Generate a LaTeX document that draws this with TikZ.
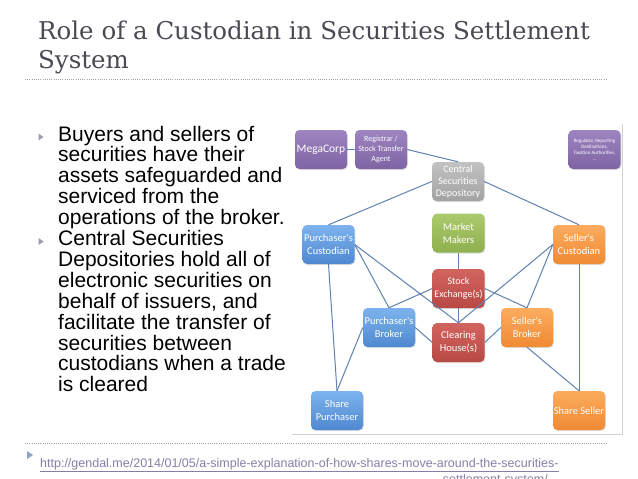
\documentclass[tikz,border=0pt]{standalone}
\usepackage{fontspec}
\setmainfont{Liberation Sans}
\newfontfamily\titlefont{DejaVu Serif}
\newfontfamily\boxfont{Carlito}
\usetikzlibrary{shadows}
\definecolor{titlegray}{HTML}{4A4A55}
\definecolor{rulegray}{HTML}{A0A0A8}
\definecolor{bulletcol}{HTML}{9A9AB0}
\definecolor{footcol}{HTML}{8FA4C4}
\definecolor{urlcol}{HTML}{8A7EA6}
\definecolor{edgecol}{HTML}{5F82B0}
\definecolor{purT}{HTML}{9D85C0}\definecolor{purB}{HTML}{7F63A3}
\definecolor{grayT}{HTML}{C2C2C2}\definecolor{grayB}{HTML}{A2A2A2}
\definecolor{grnT}{HTML}{ABCA6C}\definecolor{grnB}{HTML}{8FB04F}
\definecolor{bluT}{HTML}{7CB3EE}\definecolor{bluB}{HTML}{4F88D0}
\definecolor{orgT}{HTML}{FBAC5E}\definecolor{orgB}{HTML}{F08A35}
\definecolor{redT}{HTML}{D2645F}\definecolor{redB}{HTML}{B84844}
\tikzset{
  box/.style={rounded corners=4.5pt, minimum width=52pt, minimum height=39pt,
    inner sep=0.5pt, align=center, text=white, font=\boxfont\fontsize{10.5}{13}\selectfont,
    drop shadow={opacity=0.25, shadow xshift=0.8pt, shadow yshift=-1pt}},
  purbox/.style={box, top color=purT, bottom color=purB},
  graybox/.style={box, top color=grayT, bottom color=grayB},
  grnbox/.style={box, top color=grnT, bottom color=grnB},
  blubox/.style={box, top color=bluT, bottom color=bluB},
  orgbox/.style={box, top color=orgT, bottom color=orgB},
  redbox/.style={box, top color=redT, bottom color=redB},
  link/.style={draw=edgecol, line width=1pt},
  bullettext/.style={anchor=base west, inner sep=0pt, text=black,
    font=\fontsize{21}{20.9}\selectfont},
  dotrule/.style={draw=rulegray, line width=0.6pt, dash pattern=on 1pt off 1.2pt},
  urltext/.style={inner sep=0pt, text=urlcol, font=\fontsize{12.5}{14}\selectfont}
}
\begin{document}
\begin{tikzpicture}[x=1pt,y=-1pt]
\useasboundingbox (0,0) rectangle (638,479);
\clip (0,0) rectangle (638,479);
\fill[white] (0,0) rectangle (638,479);

% title
\node[anchor=base west, inner sep=0pt, text=titlegray,
  font=\titlefont\fontsize{24.5}{29.5}\selectfont] (title) at (38,39)
  {\parbox[t]{600pt}{\raggedright Role of a Custodian in Securities Settlement\\System}};
\coordinate (r1a) at (25,79); \coordinate (r1b) at (606,79);
\draw[dotrule] (r1a) -- (r1b);

% bullets
\fill[bulletcol] (38.5,133.5) -- (43.5,137) -- (38.5,140.5) -- cycle;
\node[bullettext] (b1) at (58,141) {\parbox[t]{250pt}{\raggedright Buyers and sellers of\\securities have their\\assets safeguarded and\\serviced from the\\operations of the broker.}};
\fill[bulletcol] (38.5,238) -- (43.5,241.5) -- (38.5,245) -- cycle;
\node[bullettext] (b2) at (58,245.5) {\parbox[t]{250pt}{\raggedright Central Securities\\Depositories hold all of\\electronic securities on\\behalf of issuers, and\\facilitate the transfer of\\securities between\\custodians when a trade\\is cleared}};

% picture frame
\coordinate (fa) at (622,124); \coordinate (fb) at (622,434); \coordinate (fc) at (292,434);
\draw[gray!35, line width=0.8pt] (fa) -- (fb) -- (fc);

% diagram nodes
\node[purbox, font=\boxfont\fontsize{11.5}{13}\selectfont] (mega) at (321,149.5) {MegaCorp};
\node[purbox, font=\boxfont\fontsize{8}{10}\selectfont] (reg) at (381,149.5) {Registrar /\\Stock Transfer\\Agent};
\node[purbox, font=\boxfont\fontsize{5}{6}\selectfont] (regu) at (594.5,149.5) {Regulator, Reporting\\Destinations,\\Taxation Authorities,\\...};
\node[graybox, font=\boxfont\fontsize{10}{12}\selectfont] (csd) at (458,181.5) {Central\\Securities\\Depository};
\node[grnbox] (mm) at (458.5,233) {Market\\Makers};
\node[blubox] (pc) at (328.5,244.5) {Purchaser's\\Custodian};
\node[orgbox] (sc) at (579,244.5) {Seller's\\Custodian};
\node[redbox, font=\boxfont\fontsize{10}{13}\selectfont] (se) at (458.5,288.5) {Stock\\Exchange(s)};
\node[blubox] (pb) at (389,327.5) {Purchaser's\\Broker};
\node[redbox] (ch) at (458.5,342.5) {Clearing\\House(s)};
\node[orgbox] (sb) at (527,327.5) {Seller's\\Broker};
\node[blubox] (sp) at (337,410.5) {Share\\Purchaser};
\node[orgbox] (ss) at (579,410.5) {Share Seller};

% connectors
\draw[link] (mega.east) -- (reg.west);
\draw[link] (reg.east) -- (csd.north);
\draw[link] (csd.west) -- (pc.north);
\draw[link] (csd.east) -- (sc.north);
\draw[link] (mm.south) -- (se.north);
\draw[link] (se.south) -- (ch.north);
\draw[link] (pc.east) -- (pb.north);
\draw[link] (pc.east) -- (ch.north);
\draw[link] (sc.west) -- (sb.north);
\draw[link] (sc.west) -- (ch.north);
\draw[link] (se.west) -- (pb.north);
\draw[link] (se.east) -- (sb.north);
\draw[link] (pb.east) -- (ch.west);
\draw[link] (sb.west) -- (ch.east);
\draw[link] (pc.south) -- (sp.north);
\draw[link] (pb.west) -- (sp.north);
\draw[link] (sb.south) -- (ss.north);
\draw[link] (sc.south) -- (ss.north);

% footer
\coordinate (r2a) at (25,443); \coordinate (r2b) at (606,443);
\draw[dotrule] (r2a) -- (r2b);
\fill[footcol] (27,451) -- (33,455) -- (27,459) -- cycle;
\node[urltext, anchor=base west] (url1) at (40,467) {\underline{http://gendal.me/2014/01/05/a-simple-explanation-of-how-shares-move-around-the-securities-}};
\node[urltext, anchor=base east] (url2) at (548,483) {\underline{settlement-system/}};
\end{tikzpicture}
\end{document}
